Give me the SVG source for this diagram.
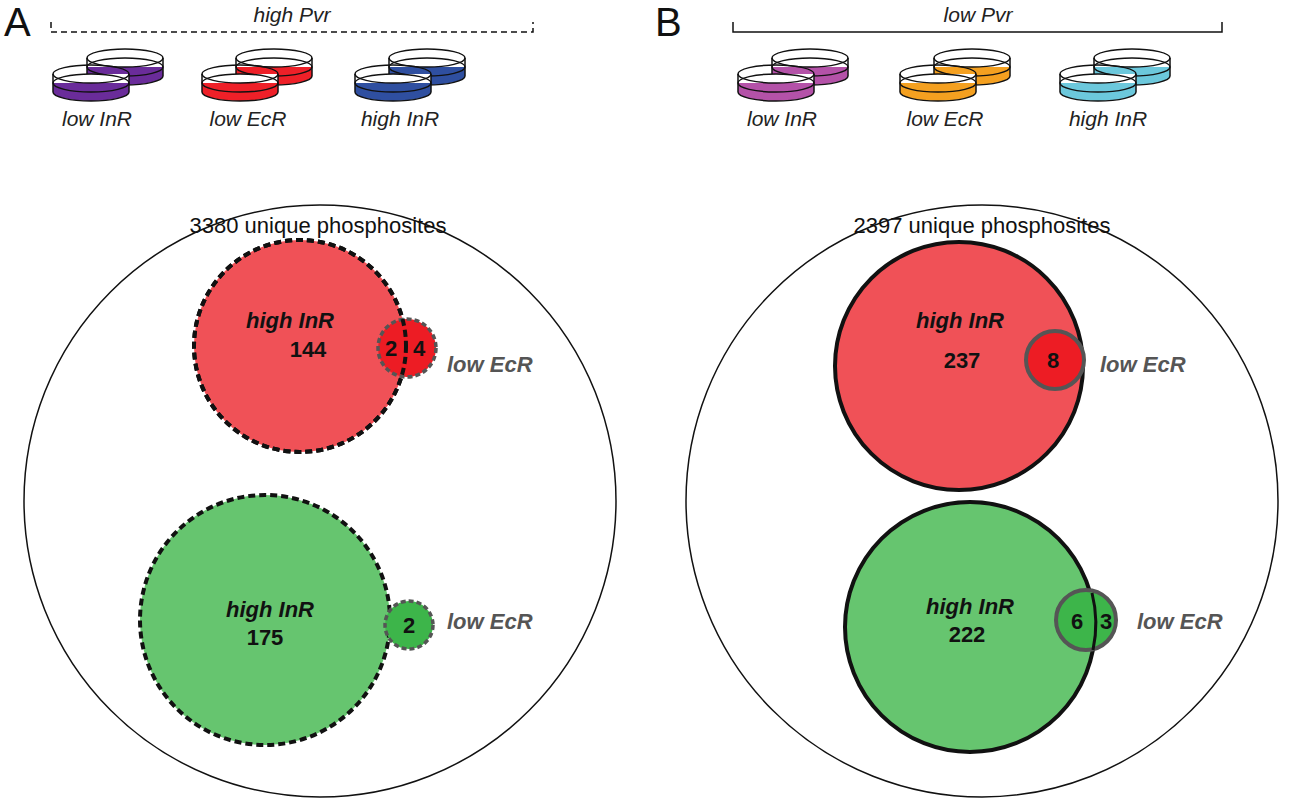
<svg xmlns="http://www.w3.org/2000/svg" xmlns:xlink="http://www.w3.org/1999/xlink" width="1306" height="800" viewBox="0 0 1306 800">
<style>
text{font-family:"Liberation Sans",Arial,sans-serif}
.lab{font-size:21px;font-style:italic;fill:#222}
.hd{font-size:40px;fill:#111}
.ti{font-size:22px;fill:#111}
.nm{font-size:22px;font-weight:bold;fill:#111}
.it{font-size:22px;font-weight:bold;font-style:italic;fill:#111}
.ec{font-size:22px;font-weight:bold;font-style:italic;fill:#555}
.o{fill:none;stroke:#111;stroke-width:1.5}
.big{fill:#fff;stroke:#111;stroke-width:1.5}
.dA{stroke:#111;stroke-width:4;stroke-dasharray:7 4}
.sA{stroke:#555;stroke-width:3.5;stroke-dasharray:5 3}
.dB{stroke:#111;stroke-width:4}
.sB{stroke:#555;stroke-width:4}
</style>
<defs>
<g id="one">
<path d="M-38,0 L-38,18 A38,9 0 0 0 38,18 L38,0 Z" fill="#fff"/>
<path d="M-38,9 L-38,18 A38,9 0 0 0 38,18 L38,9 Z" fill="currentColor"/>
<ellipse cx="0" cy="9" rx="38" ry="9" fill="currentColor" class="o"/>
<ellipse cx="0" cy="0" rx="38" ry="9" class="o"/>
<path d="M-38,0 L-38,18 A38,9 0 0 0 38,18 L38,0" class="o"/>
</g>
<g id="dish"><use xlink:href="#one" x="34" y="-16"/><use xlink:href="#one"/></g>
</defs>
<g id="panelA">
<text class="hd" x="4" y="36">A</text>
<path d="M51,22 V32 H533 V22" fill="none" stroke="#111" stroke-width="1.5" stroke-dasharray="6 4"/>
<text class="lab" x="292" y="22" text-anchor="middle">high Pvr</text>
<g id="A-lowInR"><use xlink:href="#dish" x="91" y="74" color="#6a2c9a"/><text class="lab" x="97" y="126" text-anchor="middle">low InR</text></g>
<g id="A-lowEcR"><use xlink:href="#dish" x="240" y="74" color="#ee2028"/><text class="lab" x="248" y="126" text-anchor="middle">low EcR</text></g>
<g id="A-highInR"><use xlink:href="#dish" x="393" y="74" color="#2f4fa0"/><text class="lab" x="400" y="126" text-anchor="middle">high InR</text></g>
<g id="A-total"><circle class="big" cx="320" cy="501" r="296"/><text class="ti" x="318" y="233" text-anchor="middle">3380 unique phosphosites</text></g>
<g id="A-red">
<circle cx="300" cy="346" r="106" fill="#f05157" class="dA"/>
<circle cx="407" cy="348" r="29" fill="#ed1c24" class="sA"/>
<circle cx="300" cy="346" r="106" fill="none" class="dA"/>
<text class="it" x="290" y="328" text-anchor="middle">high InR</text>
<text class="nm" x="308" y="357" text-anchor="middle">144</text>
<text class="nm" x="391" y="356" text-anchor="middle">2</text>
<text class="nm" x="419" y="356" text-anchor="middle">4</text>
<text class="ec" x="447" y="372">low EcR</text>
</g>
<g id="A-green">
<circle cx="265" cy="620" r="125" fill="#66c56f" class="dA"/>
<circle cx="409" cy="625" r="24" fill="#3db54a" class="sA"/>
<text class="it" x="270" y="617" text-anchor="middle">high InR</text>
<text class="nm" x="265" y="645" text-anchor="middle">175</text>
<text class="nm" x="409" y="633" text-anchor="middle">2</text>
<text class="ec" x="447" y="629">low EcR</text>
</g>
</g>
<g id="panelB">
<text class="hd" x="655" y="36">B</text>
<path d="M733,22 V32 H1222 V22" fill="none" stroke="#111" stroke-width="1.5"/>
<text class="lab" x="978" y="22" text-anchor="middle">low Pvr</text>
<g id="B-lowInR"><use xlink:href="#dish" x="776" y="74" color="#b452a8"/><text class="lab" x="782" y="126" text-anchor="middle">low InR</text></g>
<g id="B-lowEcR"><use xlink:href="#dish" x="938" y="74" color="#f4a020"/><text class="lab" x="945" y="126" text-anchor="middle">low EcR</text></g>
<g id="B-highInR"><use xlink:href="#dish" x="1098" y="74" color="#6cc8dc"/><text class="lab" x="1108" y="126" text-anchor="middle">high InR</text></g>
<g id="B-total"><circle class="big" cx="982" cy="501" r="296"/><text class="ti" x="982" y="233" text-anchor="middle">2397 unique phosphosites</text></g>
<g id="B-red">
<circle cx="959" cy="366" r="124" fill="#f05157" class="dB"/>
<circle cx="1055" cy="360" r="29" fill="#ed1c24" class="sB"/>
<text class="it" x="960" y="328" text-anchor="middle">high InR</text>
<text class="nm" x="962" y="368" text-anchor="middle">237</text>
<text class="nm" x="1053" y="368" text-anchor="middle">8</text>
<text class="ec" x="1100" y="372">low EcR</text>
</g>
<g id="B-green">
<circle cx="970" cy="627" r="125" fill="#66c56f" class="dB"/>
<circle cx="1086" cy="620" r="30" fill="#3db54a" class="sB"/>
<path d="M1092,593 A125,125 0 0 1 1093,650" fill="none" stroke="#111" stroke-width="3"/>
<text class="it" x="970" y="614" text-anchor="middle">high InR</text>
<text class="nm" x="967" y="642" text-anchor="middle">222</text>
<text class="nm" x="1077" y="629" text-anchor="middle">6</text>
<text class="nm" x="1106" y="629" text-anchor="middle">3</text>
<text class="ec" x="1137" y="629">low EcR</text>
</g>
</g>
</svg>
